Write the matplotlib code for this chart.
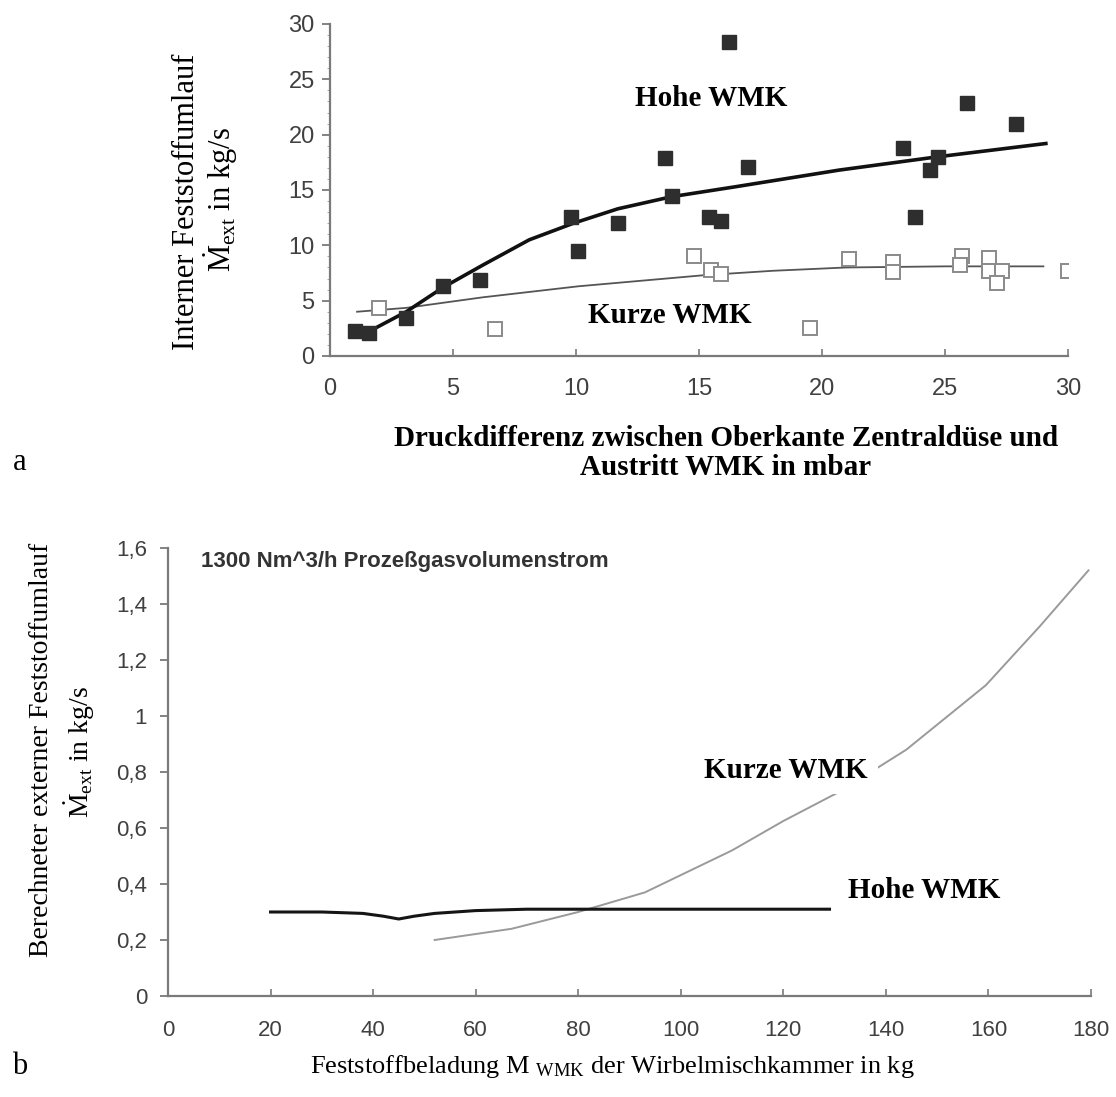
import matplotlib
matplotlib.use("Agg")
import matplotlib.pyplot as plt
from matplotlib.ticker import FixedLocator, FixedFormatter, MultipleLocator

plt.rcParams["mathtext.fontset"] = "custom"
plt.rcParams["mathtext.rm"] = "Liberation Serif"
plt.rcParams["mathtext.it"] = "Liberation Serif:italic"
plt.rcParams["mathtext.bf"] = "Liberation Serif:bold"

# ---------------- Panel a: internal solids circulation ----------------
hohe_dp = [1.0, 1.6, 3.1, 4.6, 6.1, 9.8, 10.1, 11.7, 13.6, 13.9, 15.4, 15.9, 16.2, 17.0,
           23.3, 24.4, 24.7, 23.8, 25.9, 27.9]
hohe_m = [2.3, 2.1, 3.4, 6.3, 6.9, 12.6, 9.5, 12.0, 17.9, 14.5, 12.6, 12.2, 28.4, 17.1,
          18.8, 16.8, 18.0, 12.6, 22.9, 21.0]

kurze_dp = [2.0, 6.7, 14.8, 15.5, 15.9, 19.5, 21.1, 22.9, 22.9, 25.7, 25.6, 26.8, 26.8,
            27.3, 27.1, 30.0]
kurze_m = [4.3, 2.4, 9.0, 7.8, 7.4, 2.5, 8.8, 8.5, 7.6, 9.0, 8.2, 8.9, 7.7, 7.7, 6.6, 7.7]

hohe_fit_dp = [1.7, 3.1, 4.6, 6.2, 8.1, 9.9, 11.7, 13.9, 16.5, 20.7, 24.7, 29.1]
hohe_fit_m = [2.35, 4.0, 6.2, 8.2, 10.5, 12.0, 13.3, 14.4, 15.3, 16.8, 18.0, 19.2]

kurze_fit_dp = [1.1, 3.1, 6.2, 10.1, 15.2, 18.0, 21.0, 25.0, 29.0]
kurze_fit_m = [4.0, 4.35, 5.3, 6.3, 7.3, 7.7, 8.0, 8.1, 8.1]

yticks_a = [0, 5, 10, 15, 20, 25, 30]
xticks_a = [0, 5, 10, 15, 20, 25, 30]

# ---------------- Panel b: calculated external solids circulation ----------------
kurze_load = [52, 67, 80, 93, 110, 120, 131, 144, 159.5, 170, 179.5]
kurze_ext = [0.20, 0.24, 0.30, 0.37, 0.52, 0.625, 0.73, 0.88, 1.11, 1.32, 1.52]

hohe_load = [20, 30, 38, 42, 45, 48, 52, 60, 70, 80, 90, 100, 110, 120, 129]
hohe_ext = [0.30, 0.30, 0.295, 0.285, 0.275, 0.285, 0.295, 0.305, 0.31, 0.31, 0.31,
            0.31, 0.31, 0.31, 0.31]

yticks_b = [0, 0.2, 0.4, 0.6, 0.8, 1.0, 1.2, 1.4, 1.6]
ylabels_b = ["0", "0,2", "0,4", "0,6", "0,8", "1", "1,2", "1,4", "1,6"]
xticks_b = [0, 20, 40, 60, 80, 100, 120, 140, 160, 180]

W, H = 1116, 1097
fig = plt.figure(figsize=(W / 100, H / 100), dpi=100)
fig.patch.set_facecolor("white")


def px(x, y):
    return x / W, 1 - y / H


def style_axes(ax, tick_size, xpad, ypad):
    for s in ("top", "right"):
        ax.spines[s].set_visible(False)
    for s in ("left", "bottom"):
        ax.spines[s].set_color("#7a7a7a")
        ax.spines[s].set_linewidth(1.6)
    ax.tick_params(axis="y", direction="out", length=6, width=1.3, color="#7a7a7a",
                   labelsize=tick_size, labelcolor="#404040", pad=ypad)
    ax.tick_params(axis="x", direction="in", length=5, width=1.2, color="#7a7a7a",
                   labelsize=tick_size, labelcolor="#404040", pad=xpad)
    for lab in ax.get_xticklabels() + ax.get_yticklabels():
        lab.set_fontfamily("Liberation Sans")
    ax.set_facecolor("white")


# ---- panel a ----
ax1 = fig.add_axes([330 / W, 1 - 356 / H, (1068 - 330) / W, (356 - 24) / H])
ax1.set_xlim(0, 30)
ax1.set_ylim(0, 30)
ax1.set_xticks(xticks_a)
ax1.set_yticks(yticks_a)
ax1.yaxis.set_minor_locator(MultipleLocator(1))
ax1.tick_params(axis="y", which="minor", direction="out", length=2, color="#9a9a9a")
style_axes(ax1, 17, 16, 5)

ax1.plot(kurze_fit_dp, kurze_fit_m, color="#555555", lw=1.3, zorder=2)
ax1.plot(hohe_fit_dp, hohe_fit_m, color="#111111", lw=2.6, zorder=3)
ax1.plot(kurze_dp, kurze_m, ls="none", marker="s", ms=9.5, mfc="white", mec="#8a8a8a",
         mew=1.4, zorder=4)
ax1.plot(hohe_dp, hohe_m, ls="none", marker="s", ms=10, mfc="#2e2e2e", mec="#2e2e2e",
         zorder=5)

ax1.text(15.5, 23.3, "Hohe WMK", fontfamily="Liberation Serif", fontweight="bold",
         fontsize=21, ha="center", va="center", color="black", zorder=6)
ax1.text(13.8, 3.7, "Kurze WMK", fontfamily="Liberation Serif", fontweight="bold",
         fontsize=21, ha="center", va="center", color="black", zorder=6)

fig.text(*px(186, 202), "Interner Feststoffumlauf", rotation=90, ha="center", va="center",
         fontfamily="Liberation Serif", fontsize=22)
fig.text(*px(221, 200), r"$\dot{\mathrm{M}}_{\mathrm{ext}}$ in kg/s", rotation=90,
         ha="center", va="center", fontfamily="Liberation Serif", fontsize=22)
fig.text(*px(726, 438), "Druckdifferenz zwischen Oberkante Zentraldüse und",
         ha="center", va="center", fontfamily="Liberation Serif", fontweight="bold",
         fontsize=21)
fig.text(*px(726, 468), "Austritt WMK in mbar", ha="center", va="center",
         fontfamily="Liberation Serif", fontweight="bold", fontsize=21)
fig.text(*px(20, 462), "a", ha="center", va="center", fontfamily="Liberation Serif",
         fontsize=22)

# ---- panel b ----
ax2 = fig.add_axes([168 / W, 1 - 996 / H, (1091 - 168) / W, (996 - 548) / H])
ax2.set_xlim(0, 180)
ax2.set_ylim(0, 1.6)
ax2.yaxis.set_major_locator(FixedLocator(yticks_b))
ax2.yaxis.set_major_formatter(FixedFormatter(ylabels_b))
ax2.set_xticks(xticks_b)
style_axes(ax2, 16, 17, 9)

ax2.plot(kurze_load, kurze_ext, color="#9a9a9a", lw=1.4, zorder=2)
ax2.plot(hohe_load, hohe_ext, color="#151515", lw=2.2, zorder=3)

ax2.text(6.5, 1.55, "1300 Nm^3/h Prozeßgasvolumenstrom", fontfamily="Liberation Sans",
         fontweight="bold", fontsize=16, color="#333333", ha="left", va="center")
ax2.text(120.5, 0.805, "Kurze WMK", fontfamily="Liberation Serif", fontweight="bold",
         fontsize=21, ha="center", va="center", zorder=6,
         bbox=dict(boxstyle="square,pad=0.35", fc="white", ec="none"))
ax2.text(147.5, 0.375, "Hohe WMK", fontfamily="Liberation Serif", fontweight="bold",
         fontsize=21, ha="center", va="center", zorder=6,
         bbox=dict(boxstyle="square,pad=0.3", fc="white", ec="none"))

fig.text(*px(42, 750), "Berechneter externer Feststoffumlauf", rotation=90, ha="center",
         va="center", fontfamily="Liberation Serif", fontsize=20)
fig.text(*px(80, 752), r"$\dot{\mathrm{M}}_{\mathrm{ext}}$ in kg/s", rotation=90,
         ha="center", va="center", fontfamily="Liberation Serif", fontsize=20)
fig.text(*px(612, 1066), r"Feststoffbeladung M $_{\mathrm{WMK}}$ der Wirbelmischkammer in kg",
         ha="center", va="center", fontfamily="Liberation Serif", fontsize=19)
fig.text(*px(20, 1066), "b", ha="center", va="center", fontfamily="Liberation Serif",
         fontsize=22)

fig.savefig("out.png", dpi=100, facecolor="white")
